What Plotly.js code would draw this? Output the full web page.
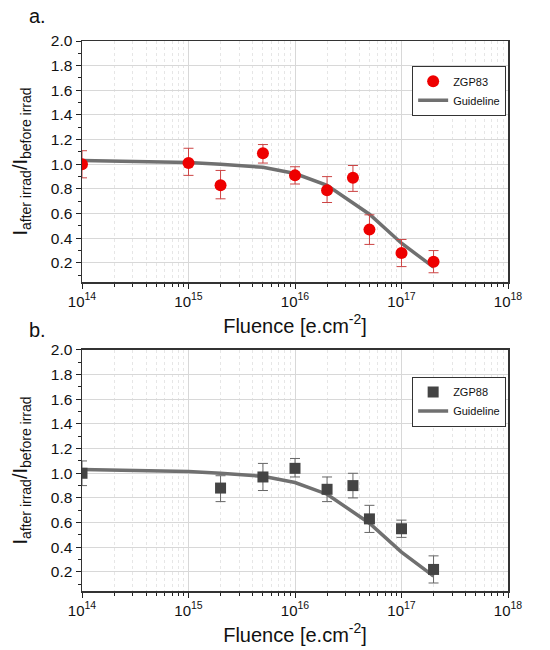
<!DOCTYPE html>
<html>
<head>
<meta charset="utf-8">
<script src="https://cdn.plot.ly/plotly-3.0.1.min.js"></script>
<style>html,body{margin:0;padding:0;background:#fff;}#chart{width:550px;height:650px;}</style>
</head>
<body>
<div id="chart"></div>
<script>
// ---- data ----
const fluence83 = [1e14, 1e15, 2e15, 5e15, 1e16, 2e16, 3.5e16, 5e16, 1e17, 2e17];
const ratio83   = [1.00, 1.01, 0.83, 1.09, 0.91, 0.79, 0.89, 0.47, 0.28, 0.21];
const errUp83   = [0.11, 0.12, 0.12, 0.07, 0.07, 0.11, 0.10, 0.12, 0.11, 0.09];
const errDn83   = [0.11, 0.10, 0.11, 0.08, 0.07, 0.10, 0.11, 0.12, 0.11, 0.09];

const fluence88 = [1e14, 2e15, 5e15, 1e16, 2e16, 3.5e16, 5e16, 1e17, 2e17];
const ratio88   = [1.00, 0.88, 0.97, 1.04, 0.87, 0.90, 0.63, 0.55, 0.22];
const errUp88   = [0.10, 0.10, 0.11, 0.08, 0.10, 0.10, 0.11, 0.07, 0.11];
const errDn88   = [0.10, 0.11, 0.11, 0.07, 0.10, 0.10, 0.11, 0.07, 0.11];

const guideFluence = [1e14, 1e15, 2e15, 5e15, 1e16, 2e16, 5e16, 1e17, 2e17];
const guideRatio   = [1.03, 1.015, 1.0, 0.975, 0.925, 0.83, 0.595, 0.36, 0.165];

const xTickVals = [1e14, 1e15, 1e16, 1e17, 1e18];
const xTickText = ['10<sup>14</sup>', '10<sup>15</sup>', '10<sup>16</sup>', '10<sup>17</sup>', '10<sup>18</sup>'];
const yTickVals = [0.2, 0.4, 0.6, 0.8, 1.0, 1.2, 1.4, 1.6, 1.8, 2.0];
const yTickText = ['0.2', '0.4', '0.6', '0.8', '1.0', '1.2', '1.4', '1.6', '1.8', '2.0'];

const seriesNames = ['ZGP83', 'ZGP88', 'Guideline'];
const panelLabels = ['a.', 'b.'];
const xTitle = 'Fluence [e.cm<sup>-2</sup>]';
const yTitle = 'I<sub>after irrad</sub>/I<sub>before irrad</sub>';

// ---- styles ----
const FONT = 'Arial, "Liberation Sans", sans-serif';
const guideColor = '#707070';

const traces = [
  {
    x: guideFluence, y: guideRatio, xaxis: 'x', yaxis: 'y', type: 'scatter', mode: 'lines',
    name: seriesNames[2], line: {color: guideColor, width: 3.5}, legend: 'legend', legendrank: 2
  },
  {
    x: fluence83, y: ratio83, xaxis: 'x', yaxis: 'y', type: 'scatter', mode: 'markers',
    name: seriesNames[0], legend: 'legend', legendrank: 1,
    marker: {symbol: 'circle', size: 12, color: '#ee0000'},
    error_y: {type: 'data', symmetric: false, array: errUp83, arrayminus: errDn83,
              color: '#cc4444', thickness: 1, width: 5}
  },
  {
    x: guideFluence, y: guideRatio, xaxis: 'x2', yaxis: 'y2', type: 'scatter', mode: 'lines',
    name: seriesNames[2], line: {color: guideColor, width: 3.5}, legend: 'legend2', legendrank: 2
  },
  {
    x: fluence88, y: ratio88, xaxis: 'x2', yaxis: 'y2', type: 'scatter', mode: 'markers',
    name: seriesNames[1], legend: 'legend2', legendrank: 1,
    marker: {symbol: 'square', size: 11, color: '#444444'},
    error_y: {type: 'data', symmetric: false, array: errUp88, arrayminus: errDn88,
              color: '#666666', thickness: 1, width: 5}
  }
];

function xAxis(anchor) {
  return {
    type: 'log', range: [14, 18], anchor: anchor,
    tickvals: xTickVals, ticktext: xTickText,
    ticks: 'outside', ticklen: 5, tickwidth: 1, tickcolor: '#222',
    showline: true, linecolor: '#333', linewidth: 1.5, mirror: true,
    showgrid: true, gridcolor: '#d8d8d8', gridwidth: 1,
    zeroline: false,
    minor: {dtick: 'D1', ticks: 'outside', ticklen: 3, tickcolor: '#222',
            showgrid: true, gridcolor: '#e6e6e6', griddash: 'dot', gridwidth: 1},
    tickfont: {family: FONT, size: 15, color: '#111'},
    title: {text: xTitle, font: {family: FONT, size: 20, color: '#111'}, standoff: 10},
    automargin: false
  };
}
function yAxis(anchor, domain) {
  return {
    range: [0.045, 2.0], anchor: anchor, domain: domain,
    tickvals: yTickVals, ticktext: yTickText,
    ticks: 'outside', ticklen: 5, tickwidth: 1, tickcolor: '#222',
    showline: true, linecolor: '#333', linewidth: 1.5, mirror: true,
    showgrid: true, gridcolor: '#d8d8d8', gridwidth: 1,
    zeroline: false,
    minor: {dtick: 0.1, tick0: 0, ticks: 'outside', ticklen: 3, tickcolor: '#222', showgrid: false},
    tickfont: {family: FONT, size: 15.5, color: '#111'},
    title: {text: yTitle, font: {family: FONT, size: 20, color: '#111'}, standoff: 18},
    automargin: false
  };
}

function legendBox(y) {
  return {
    x: 0.775, y: y, xanchor: 'left', yanchor: 'top',
    bgcolor: 'rgba(255,255,255,1)', bordercolor: '#333', borderwidth: 1,
    font: {family: FONT, size: 11, color: '#111'},
    itemwidth: 30, tracegroupgap: 0, traceorder: 'normal'
  };
}

const layout = {
  width: 550, height: 650,
  margin: {l: 82, r: 42, t: 41, b: 59},
  paper_bgcolor: '#fff', plot_bgcolor: '#fff',
  showlegend: true,
  xaxis: xAxis('y'),
  yaxis: yAxis('x', [0.5618, 1]),
  xaxis2: xAxis('y2'),
  yaxis2: yAxis('x2', [0, 0.4382]),
  legend: legendBox(0.955),
  legend2: legendBox(0.39),
  annotations: [
    {text: panelLabels[0], xref: 'paper', yref: 'paper', x: -0.13, y: 1.045, xanchor: 'left', yanchor: 'middle',
     showarrow: false, font: {family: FONT, size: 20, color: '#111'}},
    {text: panelLabels[1], xref: 'paper', yref: 'paper', x: -0.13, y: 0.474, xanchor: 'left', yanchor: 'middle',
     showarrow: false, font: {family: FONT, size: 20, color: '#111'}}
  ]
};

Plotly.newPlot('chart', traces, layout, {displayModeBar: false, staticPlot: true});
</script>
</body>
</html>
